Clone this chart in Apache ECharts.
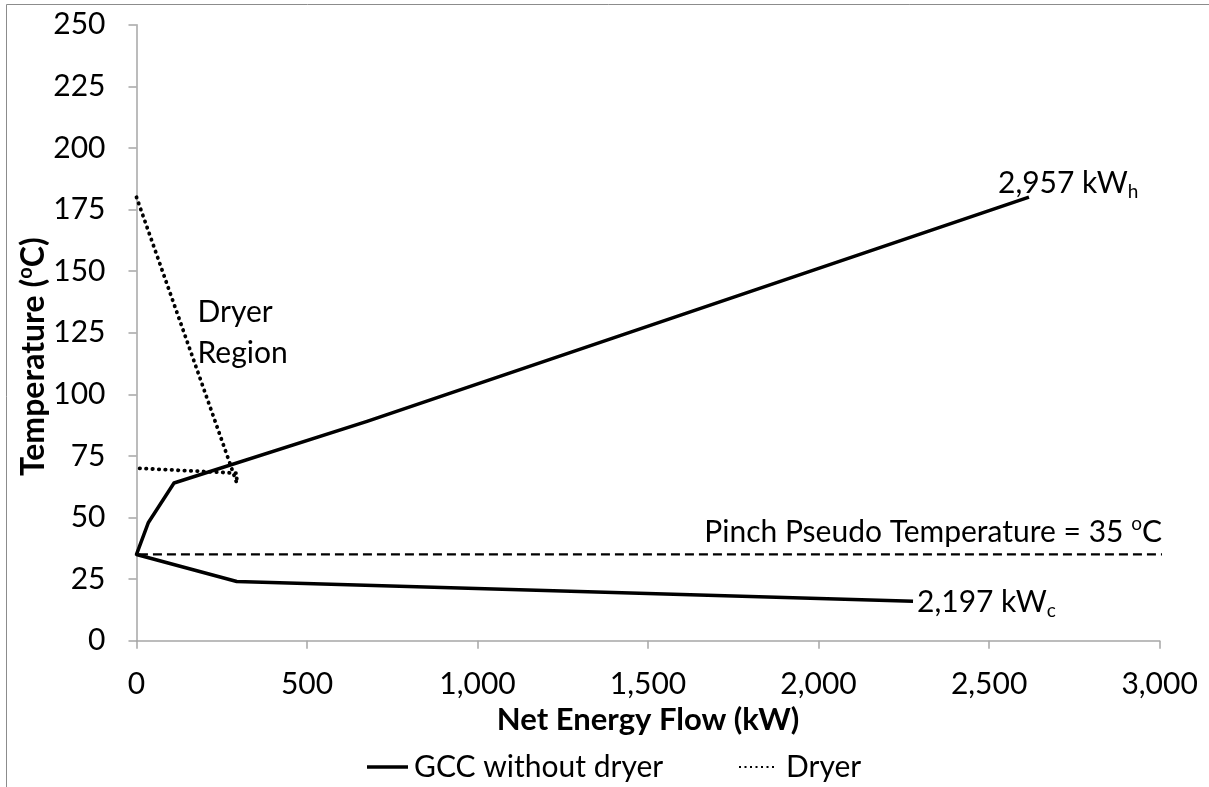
<!DOCTYPE html>
<html>
<head>
<meta charset="utf-8">
<script src="https://cdn.jsdelivr.net/npm/echarts@6/dist/echarts.min.js"></script>
<style>
html,body{margin:0;padding:0;background:#fff;}
#c{width:1209px;height:787px;}
</style>
</head>
<body>
<div id="c"></div>
<script>
// ---- data ----
const gccName = 'GCC without dryer';
const gccX = [2617, 676, 110, 35, 0, 294, 2277];
const gccY = [180, 89, 64, 48, 35, 24, 16];

const dryerName = 'Dryer';
const dryerX = [0, 294, 294, 0];
const dryerY = [180, 64, 68, 70];

const pinchX = [-116, 3045];
const pinchY = [35, 35];

const xTicks = [0, 500, 1000, 1500, 2000, 2500, 3000];
const yTicks = [0, 25, 50, 75, 100, 125, 150, 175, 200, 225, 250];

const hotText = '2,957 kW';
const hotSub = 'h';
const coldText = '2,197 kW';
const coldSub = 'c';
const pinchText = 'Pinch Pseudo Temperature = 35 ';
const dryerRegionText = 'Dryer\nRegion';
const xTitle = 'Net Energy Flow (kW)';
const yTitle = ['Temperature (', 'o', 'C)'];

// ---- chart ----
const FONT = 'Lato';
const FS = 30;
const AX = '#a6a6a6';
const pairs = (xs, ys) => xs.map((x, i) => [x, ys[i]]);

const chart = echarts.init(document.getElementById('c'), null, {renderer: 'canvas'});

const option = {
  animation: false,
  backgroundColor: '#fff',
  textStyle: {fontFamily: FONT, color: '#000'},
  grid: {left: 136.5, right: 49.4, top: 24.7, bottom: 146.3, containLabel: false, outerBoundsMode: 'none'},
  xAxis: {
    type: 'value', min: xTicks[0], max: xTicks[xTicks.length - 1], interval: 500,
    axisLine: {show: true, lineStyle: {color: AX, width: 1.5}},
    axisTick: {show: true, inside: false, length: 8, lineStyle: {color: AX, width: 1.5}},
    splitLine: {show: false},
    axisLabel: {margin: 29, fontFamily: FONT, fontSize: FS, color: '#000',
      formatter: v => v.toLocaleString('en-US')},
    name: xTitle, nameLocation: 'middle', nameGap: 61,
    nameTextStyle: {fontFamily: FONT, fontSize: 31, fontWeight: 'bold', color: '#000'}
  },
  yAxis: {
    type: 'value', min: yTicks[0], max: yTicks[yTicks.length - 1], interval: 25,
    axisLine: {show: true, onZero: false, lineStyle: {color: AX, width: 1.5}},
    axisTick: {show: true, inside: false, length: 8, lineStyle: {color: AX, width: 1.5}},
    splitLine: {show: false},
    axisLabel: {margin: 31, fontFamily: FONT, fontSize: FS, color: '#000'}
  },
  series: [
    {
      name: gccName, type: 'line', data: pairs(gccX, gccY),
      symbol: 'none', showSymbol: false, smooth: false,
      lineStyle: {color: '#000', width: 3.5, join: 'round'},
      itemStyle: {color: '#000'}, z: 3
    },
    {
      name: dryerName, type: 'line', data: pairs(dryerX, dryerY),
      symbol: 'none', showSymbol: false,
      lineStyle: {color: '#000', width: 3.8, type: [0.4, 6], cap: 'round'},
      itemStyle: {color: '#000'}, z: 2
    },
    {
      name: 'pinch', type: 'line', data: pairs(pinchX, pinchY),
      symbol: 'none', showSymbol: false, clip: false,
      lineStyle: {color: '#000', width: 2.3, type: [9, 5]},
      itemStyle: {color: '#000'}, z: 1
    }
  ]
};
chart.setOption(option);

// annotations positioned through the chart's own scales
const px = (x, y) => chart.convertToPixel({xAxisIndex: 0, yAxisIndex: 0}, [x, y]);
const hotEnd = px(gccX[0], gccY[0]);
const coldEnd = px(gccX[gccX.length - 1], gccY[gccY.length - 1]);
const pinchEnd = px(pinchX[1], pinchY[1]);
const dryerTop = px(dryerX[0], dryerY[0]);
const originPx = px(0, 0);
const topPx = px(0, yTicks[yTicks.length - 1]);

const richMain = {fontFamily: FONT, fontSize: FS, color: '#000', lineHeight: 36};
const richSub = {fontFamily: FONT, fontSize: 19, color: '#000', lineHeight: 12, verticalAlign: 'bottom'};
const richSup = {fontFamily: FONT, fontSize: 19, color: '#000', lineHeight: 18, verticalAlign: 'top'};
const richMainB = {fontFamily: FONT, fontSize: 32, fontWeight: 'bold', color: '#000', lineHeight: 36};
const richSupB = {fontFamily: FONT, fontSize: 20, fontWeight: 'bold', color: '#000', lineHeight: 18, verticalAlign: 'top'};

const legY = 767;
chart.setOption({
  graphic: [
    {type: 'rect', silent: true, shape: {x: 6.5, y: 4.5, width: 1400, height: 1000},
      style: {fill: 'none', stroke: '#8c8c8c', lineWidth: 1}},
    // y axis title
    {type: 'text', x: 34, y: (originPx[1] + topPx[1]) / 2 + 24, rotation: Math.PI / 2,
      style: {text: '{m|' + yTitle[0] + '}{s|' + yTitle[1] + '}{m|' + yTitle[2] + '}',
        rich: {m: richMainB, s: richSupB}, align: 'center', verticalAlign: 'middle'}},
    // annotations
    {type: 'text', x: hotEnd[0] - 31, y: hotEnd[1] - 14,
      style: {text: '{m|' + hotText + '}{s|' + hotSub + '}', rich: {m: richMain, s: richSub},
        align: 'left', verticalAlign: 'middle'}},
    {type: 'text', x: coldEnd[0] + 4, y: coldEnd[1] + 1,
      style: {text: '{m|' + coldText + '}{s|' + coldSub + '}', rich: {m: richMain, s: richSub},
        align: 'left', verticalAlign: 'middle'}},
    {type: 'text', x: pinchEnd[0] - 13, y: pinchEnd[1] - 22,
      style: {text: '{m|' + pinchText + '}{s|o}{m|C}', rich: {m: richMain, s: richSup},
        align: 'right', verticalAlign: 'middle'}},
    {type: 'text', x: dryerTop[0] + 61, y: dryerTop[1] + 95,
      style: {text: dryerRegionText, fontFamily: FONT, fontSize: FS, fill: '#000', lineHeight: 41,
        align: 'left', verticalAlign: 'top'}},
    // legend
    {type: 'line', shape: {x1: 367, y1: legY, x2: 408, y2: legY},
      style: {stroke: '#000', lineWidth: 3.5}},
    {type: 'text', x: 414, y: legY,
      style: {text: gccName, fontFamily: FONT, fontSize: FS, fill: '#000', align: 'left', verticalAlign: 'middle'}},
    {type: 'line', shape: {x1: 739, y1: legY, x2: 776, y2: legY},
      style: {stroke: '#000', lineWidth: 2, lineDash: [2, 3.5]}},
    {type: 'text', x: 786, y: legY,
      style: {text: dryerName, fontFamily: FONT, fontSize: FS, fill: '#000', align: 'left', verticalAlign: 'middle'}}
  ]
});
</script>
</body>
</html>
